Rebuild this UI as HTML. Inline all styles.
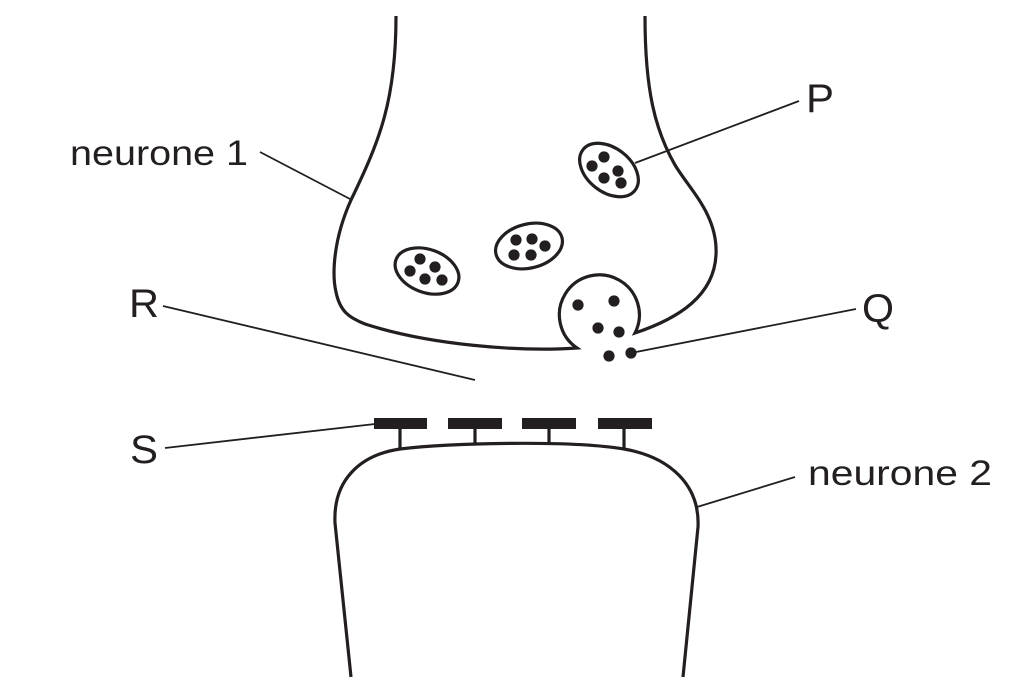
<!DOCTYPE html>
<html>
<head>
<meta charset="utf-8">
<style>
html,body{margin:0;padding:0;background:#fff;}
svg{display:block;}
text{font-family:"Liberation Sans",Arial,sans-serif;fill:#231f20;}
</style>
</head>
<body>
<svg width="1024" height="691" viewBox="0 0 1024 691" xmlns="http://www.w3.org/2000/svg">
  <g fill="none" stroke="#231f20" stroke-width="3.2" stroke-linejoin="miter">
    <!-- neurone 1 -->
    <path d="M396,16 C396,100 380,140 351,200 C333,240 332,275 336,292 C340,312 350,318 365,324 C430,345 520,352 577,348 A40 40 0 1 1 635,333 C680,318 714,295 716,255 C718,215 690,190 675,165 C655,130 645,90 645,16"/>
    <!-- neurone 2 -->
    <path d="M351,677 L335,523 C333,480 360,455 400,449 C450,443 570,440 624,449 C670,457 700,485 698,527 L683,677"/>
    <!-- vesicles -->
    <ellipse cx="609" cy="170" rx="33" ry="22" transform="rotate(38 609 170)"/>
    <ellipse cx="529" cy="246" rx="34" ry="22" transform="rotate(-14 529 246)"/>
    <ellipse cx="427" cy="271" rx="33" ry="21.5" transform="rotate(20 427 271)"/>
    <!-- receptor stems -->
    <line x1="400" y1="429" x2="400" y2="449"/>
    <line x1="475" y1="429" x2="475" y2="444"/>
    <line x1="549" y1="429" x2="549" y2="443"/>
    <line x1="624" y1="429" x2="624" y2="448"/>
  </g>
  <!-- receptor bars -->
  <g fill="#231f20">
    <rect x="374" y="418" width="53" height="11"/>
    <rect x="448" y="418" width="54" height="11"/>
    <rect x="522" y="418" width="54" height="11"/>
    <rect x="598" y="418" width="54" height="11"/>
  </g>
  <!-- dots -->
  <g fill="#231f20">
    <circle cx="604" cy="157" r="5.6"/><circle cx="592" cy="166" r="5.6"/><circle cx="618" cy="171" r="5.6"/><circle cx="604" cy="178" r="5.6"/><circle cx="621" cy="183" r="5.6"/>
    <circle cx="516" cy="240" r="5.6"/><circle cx="532" cy="239" r="5.6"/><circle cx="545" cy="246" r="5.6"/><circle cx="514" cy="255" r="5.6"/><circle cx="531" cy="255" r="5.6"/>
    <circle cx="420" cy="259" r="5.6"/><circle cx="410" cy="271" r="5.6"/><circle cx="435" cy="267" r="5.6"/><circle cx="425" cy="279" r="5.6"/><circle cx="442" cy="280" r="5.6"/>
    <circle cx="578" cy="305" r="5.6"/><circle cx="614" cy="301" r="5.6"/><circle cx="598" cy="328" r="5.6"/><circle cx="619" cy="332" r="5.6"/>
    <circle cx="609" cy="356" r="5.6"/><circle cx="631" cy="353" r="5.6"/>
  </g>
  <!-- label lines -->
  <g stroke="#231f20" stroke-width="1.8" fill="none">
    <line x1="260" y1="152" x2="350" y2="199"/>
    <line x1="163" y1="306" x2="475" y2="380"/>
    <line x1="165" y1="448" x2="375" y2="424"/>
    <line x1="799" y1="101" x2="635" y2="163"/>
    <line x1="856" y1="309" x2="631" y2="353"/>
    <line x1="795" y1="477" x2="697" y2="507"/>
  </g>
  <!-- labels -->
  <text x="70" y="165" font-size="35" textLength="178" lengthAdjust="spacingAndGlyphs">neurone 1</text>
  <text x="808" y="485" font-size="35" textLength="184" lengthAdjust="spacingAndGlyphs">neurone 2</text>
  <text x="806" y="112" font-size="40" textLength="28" lengthAdjust="spacingAndGlyphs">P</text>
  <text x="862" y="322" font-size="40" textLength="32" lengthAdjust="spacingAndGlyphs">Q</text>
  <text x="129" y="317" font-size="40" textLength="30" lengthAdjust="spacingAndGlyphs">R</text>
  <text x="130" y="463" font-size="40" textLength="28" lengthAdjust="spacingAndGlyphs">S</text>
</svg>
</body>
</html>
